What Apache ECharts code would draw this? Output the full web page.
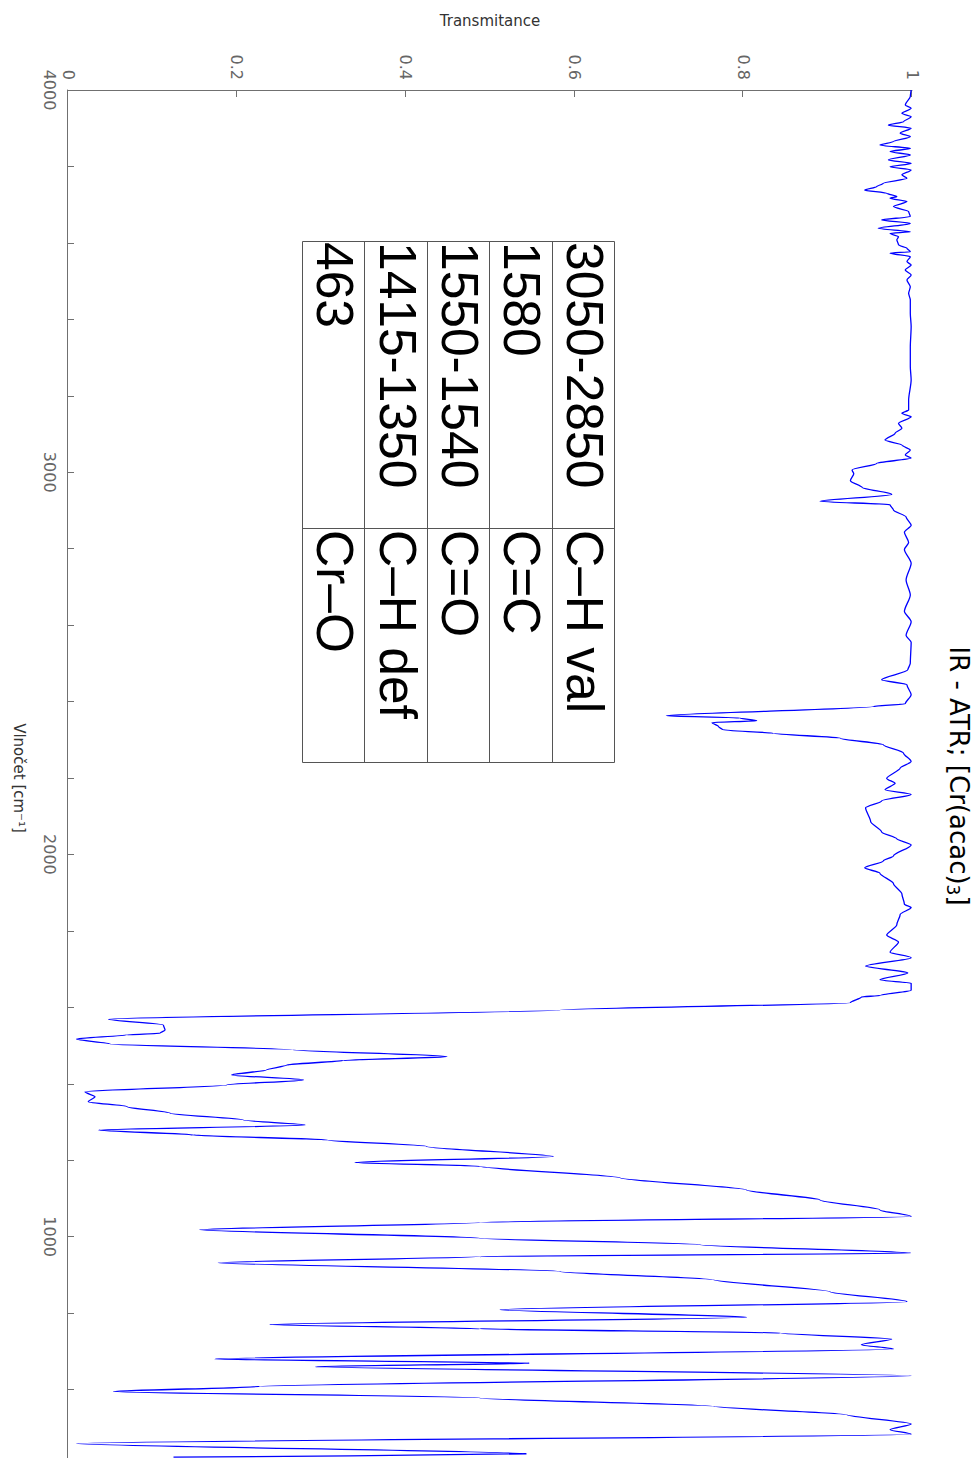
<!DOCTYPE html>
<html><head><meta charset="utf-8">
<script src="https://cdn.jsdelivr.net/npm/echarts@6/dist/echarts.min.js"></script>
<style>
html,body{margin:0;padding:0;overflow:hidden;background:#fff;width:975px;height:1458px}
#chart{position:absolute;left:0;top:0;width:1466px;height:975px;transform-origin:0 0;transform:translate(975px,0) rotate(90deg)}
</style></head><body><div id="chart"></div>
<script>
// Spectrum
const wavenumber = [4000,3983,3961,3952,3939,3930,3917,3908,3900,3887,3878,3865,3856,3847,3839,3830,3817,3808,3799,3791,3778,3769,3756,3747,3738,3730,3721,3717,3708,3695,3682,3669,3660,3651,3638,3629,3625,3616,3608,3595,3586,3577,3573,3564,3551,3542,3529,3516,3503,3485,3468,3451,3416,3381,3328,3276,3241,3189,3163,3154,3145,3128,3115,3102,3084,3071,3058,3045,3037,3023,3006,2996,2978,2960,2942,2924,2915,2901,2883,2861,2843,2816,2798,2762,2718,2679,2636,2609,2573,2555,2500,2483,2457,2444,2418,2394,2387,2363,2357,2350,2345,2334,2326,2317,2304,2287,2265,2243,2226,2199,2186,2169,2157,2140,2122,2086,2059,2041,2025,1996,1983,1965,1951,1924,1897,1870,1861,1843,1816,1789,1771,1744,1730,1708,1690,1672,1663,1645,1631,1627,1612,1593,1569,1554,1541,1532,1528,1517,1504,1489,1471,1461,1449,1436,1423,1410,1397,1379,1366,1353,1340,1323,1305,1292,1279,1266,1253,1236,1210,1194,1184,1154,1122,1096,1070,1053,1037,1018,996,979,957,948,932,909,887,856,830,809,789,770,759,748,732,717,706,680,669,660,636,608,595,578,556,534,510,495,483,459,432,423];
const transmittance = [0.999,0.998,0.992,0.999,0.988,0.999,0.990,0.972,0.999,0.986,0.998,0.978,0.962,0.998,0.974,0.998,0.972,0.999,0.974,0.999,0.988,0.994,0.966,0.958,0.944,0.970,0.982,0.974,0.994,0.978,0.996,0.998,0.964,0.998,0.960,0.998,0.974,0.984,0.982,0.984,0.994,0.998,0.974,0.998,0.994,0.999,0.992,0.999,0.994,0.998,0.996,0.998,0.998,0.999,0.998,0.998,0.999,0.996,0.996,0.988,0.999,0.984,0.988,0.980,0.968,0.988,0.998,0.992,0.999,0.958,0.929,0.931,0.927,0.941,0.976,0.891,0.974,0.978,0.993,0.999,0.991,0.996,0.991,0.999,0.993,0.998,0.991,0.999,0.993,0.999,0.998,0.995,0.964,0.994,0.999,0.992,0.954,0.709,0.796,0.816,0.763,0.771,0.776,0.836,0.915,0.966,0.990,0.999,0.986,0.970,0.980,0.968,0.999,0.964,0.945,0.951,0.964,0.982,0.999,0.978,0.966,0.944,0.962,0.978,0.988,0.991,0.999,0.986,0.982,0.970,0.984,0.974,0.999,0.945,0.995,0.962,0.999,0.999,0.962,0.940,0.927,0.583,0.048,0.113,0.115,0.109,0.070,0.010,0.050,0.267,0.449,0.326,0.259,0.235,0.194,0.279,0.188,0.020,0.032,0.024,0.070,0.121,0.208,0.281,0.036,0.148,0.307,0.425,0.575,0.340,0.488,0.654,0.804,0.891,0.962,0.999,0.488,0.156,0.488,0.749,0.999,0.488,0.178,0.583,0.765,0.903,0.994,0.512,0.804,0.239,0.488,0.844,0.976,0.940,0.978,0.174,0.547,0.293,0.999,0.227,0.054,0.488,0.765,0.923,0.999,0.974,0.999,0.010,0.543,0.125];

// Axis ticks and labels
const xTickValues = [4000,3800,3600,3400,3200,3000,2800,2600,2400,2200,2000,1800,1600,1400,1200,1000,800,600,400];
const xLabelValues = [4000,3000,2000,1000];

// Texts
const titleText = 'IR - ATR; [Cr(acac){sub|3}]';
const xAxisName = 'Vlnočet [cm⁻¹]';
const yAxisName = 'Transmitance';
const tableRanges = ['3050-2850','1580','1550-1540','1415-1350','463'];
const tableAssign = ['C–H val','C=C','C=O','C–H def','Cr–O'];

const chart = echarts.init(document.getElementById('chart'), null, {renderer:'svg'});

const tbl = {x:241, y:360, w:521, split:287, rowH:62.4};
const tableEls = [];
const tH = tbl.rowH * tableRanges.length;
tableEls.push({type:'rect', shape:{x:tbl.x+0.5, y:tbl.y+0.5, width:tbl.w, height:Math.round(tH)}, style:{fill:'none', stroke:'#555', lineWidth:1}});
for (let i=1;i<tableRanges.length;i++){
  const yy = Math.round(tbl.y + i*tbl.rowH)+0.5;
  tableEls.push({type:'line', shape:{x1:tbl.x, y1:yy, x2:tbl.x+tbl.w, y2:yy}, style:{stroke:'#555', lineWidth:1}});
}
tableEls.push({type:'line', shape:{x1:tbl.x+tbl.split+0.5, y1:tbl.y, x2:tbl.x+tbl.split+0.5, y2:tbl.y+tH}, style:{stroke:'#555', lineWidth:1}});
tableRanges.forEach((t,i)=>{
  const cy = tbl.y + (i+0.5)*tbl.rowH - 1;
  tableEls.push({type:'text', x:tbl.x+1, y:cy, style:{text:t, fill:'#000', fontSize:51.5, fontFamily:'Liberation Sans', align:'left', verticalAlign:'middle', textAlign:'left', textVerticalAlign:'middle'}});
  tableEls.push({type:'text', x:tbl.x+tbl.split+2, y:cy, style:{text:tableAssign[i], fill:'#000', fontSize:51.5, fontFamily:'Liberation Sans', align:'left', verticalAlign:'middle', textAlign:'left', textVerticalAlign:'middle'}});
});

chart.setOption({
  animation:false,
  backgroundColor:'#fff',
  grid:{left:90, right:0, top:63, bottom:68, containLabel:false},
  xAxis:{
    type:'value', min:400, max:4000, inverse:true, position:'bottom',
    name:xAxisName, nameLocation:'middle', nameGap:42,
    nameTextStyle:{color:'#333', fontSize:15, fontFamily:'DejaVu Sans'},
    axisLine:{show:true, lineStyle:{color:'#707070', width:1}},
    axisTick:{show:true, inside:true, length:6, customValues:xTickValues, lineStyle:{color:'#707070'}},
    axisLabel:{customValues:xLabelValues, formatter:v=>String(v), color:'#666', fontSize:16, fontFamily:'DejaVu Sans', margin:11, showMinLabel:true, showMaxLabel:true},
    splitLine:{show:false}
  },
  yAxis:{
    type:'value', min:0, max:1, interval:0.2, position:'left',
    name:yAxisName, nameLocation:'middle', nameGap:62, nameRotate:90,
    nameTextStyle:{color:'#333', fontSize:15, fontFamily:'DejaVu Sans'},
    axisLine:{show:true, lineStyle:{color:'#707070', width:1}},
    axisTick:{show:true, inside:true, length:7, lineStyle:{color:'#707070'}},
    axisLabel:{color:'#666', fontSize:16, fontFamily:'DejaVu Sans', margin:10, formatter:v=>String(v)},
    splitLine:{show:false}
  },
  series:[{
    type:'line', showSymbol:false, symbol:'none', smooth:0.25, smoothMonotone:'x',
    data: wavenumber.map((w,i)=>[w, transmittance[i]]),
    lineStyle:{color:'#0000ff', width:1.3}
  }],
  graphic:[
    {type:'text', x:776, y:1, style:{text:titleText, fill:'#000', fontSize:26, fontFamily:'DejaVu Sans', lineHeight:30, align:'center', verticalAlign:'top', textAlign:'center', textVerticalAlign:'top', rich:{sub:{fontSize:17, lineHeight:17, verticalAlign:'bottom', fontFamily:'DejaVu Sans', fill:'#000'}}}},
    {type:'group', children:tableEls}
  ]
});
</script></body></html>
